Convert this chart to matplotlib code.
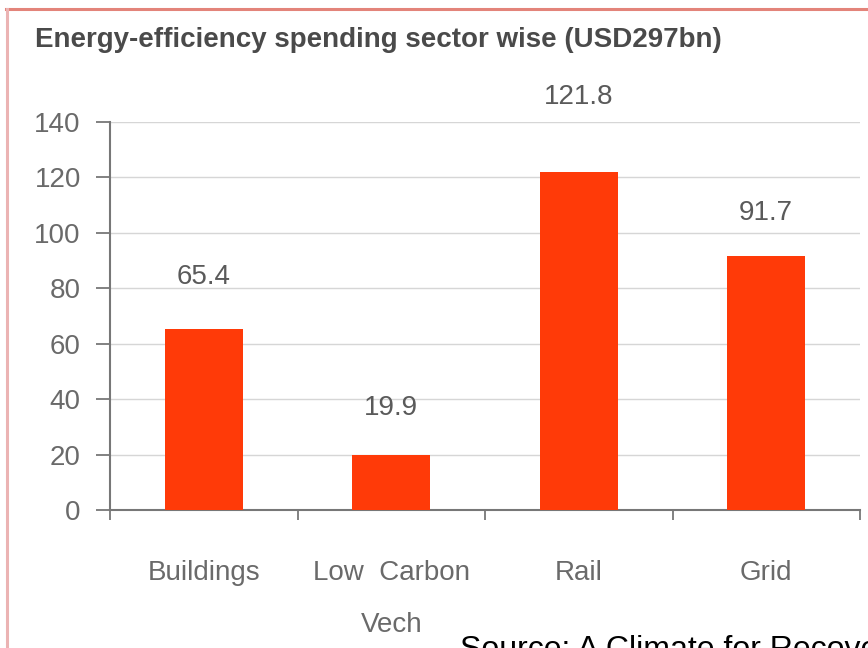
#!/usr/bin/env python3

import matplotlib; matplotlib.use('Agg')
import matplotlib.pyplot as plt
from matplotlib.lines import Line2D

plt.rcParams.update({
    'font.family': ['Liberation Sans', 'DejaVu Sans'],
})

## spending per sector, USD bn
sectors = ['Buildings', 'Low  Carbon\nVech', 'Rail', 'Grid']
spend = [65.4, 19.9, 121.8, 91.7]
yticks = [0, 20, 40, 60, 80, 100, 120, 140]
# how far each value label sits above its bar, in points
label_gap = [37, 34, 54, 31]

title = 'Energy-efficiency spending sector wise (USD297bn)'
source = 'Source: A Climate for Recovery'

bar_col = '#ff3a08'
grey = '#6a6a6a'

fig = plt.figure(figsize=(8.68, 6.48), dpi=100)
ax = fig.add_axes([110/868, 1 - 510/648, 750/868, 388/648])

xs = list(range(len(sectors)))
ax.bar(xs, spend, width=0.415, color=bar_col, zorder=3)
for x, v, g in zip(xs, spend, label_gap):
    ax.annotate('%.1f' % v, (x, v), xytext=(0, g), textcoords='offset points',
                ha='center', va='center', fontsize=20, color='#5a5a5a')

ax.set_xlim(-0.5, len(sectors) - 0.5)
ax.set_ylim(0, 140)
ax.set_yticks(yticks)
ax.yaxis.grid(True, color='#d6d6d6', lw=1.0, zorder=0)

# boundary ticks between categories, names on minor ticks
ax.set_xticks([i - 0.5 for i in range(len(sectors) + 1)])
ax.set_xticklabels([])
ax.set_xticks(xs, minor=True)
ax.set_xticklabels(sectors, minor=True, fontsize=20, color=grey, linespacing=2.3,
                   va='top')
ax.tick_params(axis='x', which='minor', length=0, pad=36)
ax.tick_params(axis='x', which='major', length=7, width=1.3, color='#777777',
               direction='out')
ax.tick_params(axis='y', length=10, width=1.3, color='#777777', pad=11,
               labelsize=20, labelcolor=grey)

for s in ['top', 'right']:
    ax.spines[s].set_visible(False)
for s in ['left', 'bottom']:
    ax.spines[s].set_color('#777777')
    ax.spines[s].set_linewidth(1.5)

fig.text(35/868, 1 - 40/648, title, fontsize=20, fontweight='bold',
         color='#4a4a4a', va='center', ha='left')
fig.text(460/868, 1 - 658/648, source, fontsize=23, color='black',
         va='baseline', ha='left')

# frame around the panel
fig.add_artist(Line2D([6/868, 1], [1 - 8.5/648] * 2, color='#e3847a', lw=2.2,
                      transform=fig.transFigure))
fig.add_artist(Line2D([6.5/868] * 2, [0, 1 - 8.5/648], color='#ebb3b3', lw=2.2,
                      transform=fig.transFigure))

fig.savefig('out.png', dpi=100)
